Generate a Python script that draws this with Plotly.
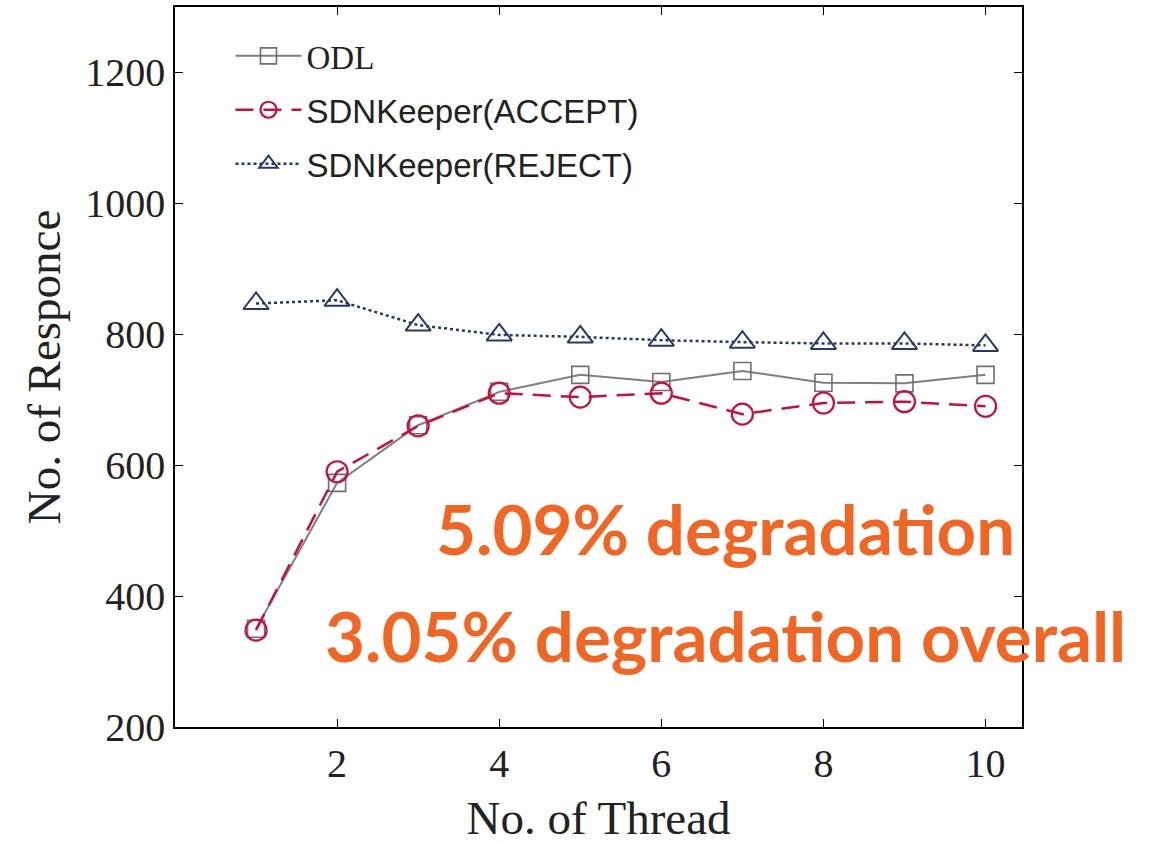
import plotly.graph_objects as go

# Number of worker threads
threads = [1, 2, 3, 4, 5, 6, 7, 8, 9, 10]

# Responses handled per configuration
odl = [350, 573, 661, 712, 738, 727, 744, 726, 725, 738]
sdn_accept = [348, 590, 660, 710, 704, 710, 678, 695, 697, 690]
sdn_reject = [847, 852, 814, 799, 796, 791, 788, 786, 786, 783]

x_ticks = [2, 4, 6, 8, 10]
y_ticks = [200, 400, 600, 800, 1000, 1200]

serif = "Liberation Serif"
sans = "Liberation Sans"

fig = go.Figure()

fig.add_trace(go.Scatter(
    x=threads, y=odl, name="ODL", mode="lines+markers",
    legendgroup="a",
    line=dict(color="#7f7f7f", width=2, dash="solid"),
    marker=dict(symbol="square-open", size=17, color="#6f6f6f", line=dict(width=1.6)),
))
fig.add_trace(go.Scatter(
    x=threads, y=sdn_accept,
    name=f'<span style="font-family:{sans}">SDNKeeper(ACCEPT)</span>',
    mode="lines+markers", legendgroup="b",
    line=dict(color="#c8103c", width=2.5, dash="18px,10px"),
    marker=dict(symbol="circle-open", size=21, color="#c8103c", line=dict(width=2.2)),
))
fig.add_trace(go.Scatter(
    x=threads, y=sdn_reject,
    name=f'<span style="font-family:{sans}">SDNKeeper(REJECT)</span>',
    mode="lines+markers", legendgroup="c",
    line=dict(color="#283868", width=2.5, dash="dot"),
    marker=dict(symbol="triangle-up-open", size=22, color="#283868", line=dict(width=2)),
))

axis_common = dict(
    showline=True, linecolor="black", linewidth=1.5, mirror="ticks",
    ticks="inside", ticklen=8, tickwidth=1.2, tickcolor="black",
    showgrid=False, zeroline=False,
    tickfont=dict(family=serif, size=40, color="#222"),
)

fig.update_xaxes(
    range=[0, 10.45], tickvals=x_ticks,
    title=dict(text="No. of Thread", font=dict(family=serif, size=47, color="#222"), standoff=18),
    **axis_common,
)
fig.update_yaxes(
    range=[200, 1300], tickvals=y_ticks,
    title=dict(text="No. of Responce", font=dict(family=serif, size=47, color="#222"), standoff=10),
    **axis_common,
)

orange = "#f26522"
fig.add_annotation(
    x=0.65, y=0.2756, xref="paper", yref="paper", showarrow=False,
    xanchor="center", yanchor="middle",
    text="<b>5.09% degradation</b>",
    font=dict(family="Lato", size=69, color=orange),
)
fig.add_annotation(
    x=0.65, y=0.1274, xref="paper", yref="paper", showarrow=False,
    xanchor="center", yanchor="middle",
    text="<b>3.05% degradation overall</b>",
    font=dict(family="Lato", size=69, color=orange),
)

fig.update_layout(
    width=1158, height=844,
    margin=dict(l=175, r=136, t=5, b=117),
    paper_bgcolor="white", plot_bgcolor="white",
    showlegend=True,
    legend=dict(
        x=0.0655, y=0.971, xanchor="left", yanchor="top",
        bgcolor="rgba(0,0,0,0)",
        font=dict(family=serif, size=33, color="#222"),
        tracegroupgap=8, itemwidth=66,
    ),
)

fig.write_html("out.html")
